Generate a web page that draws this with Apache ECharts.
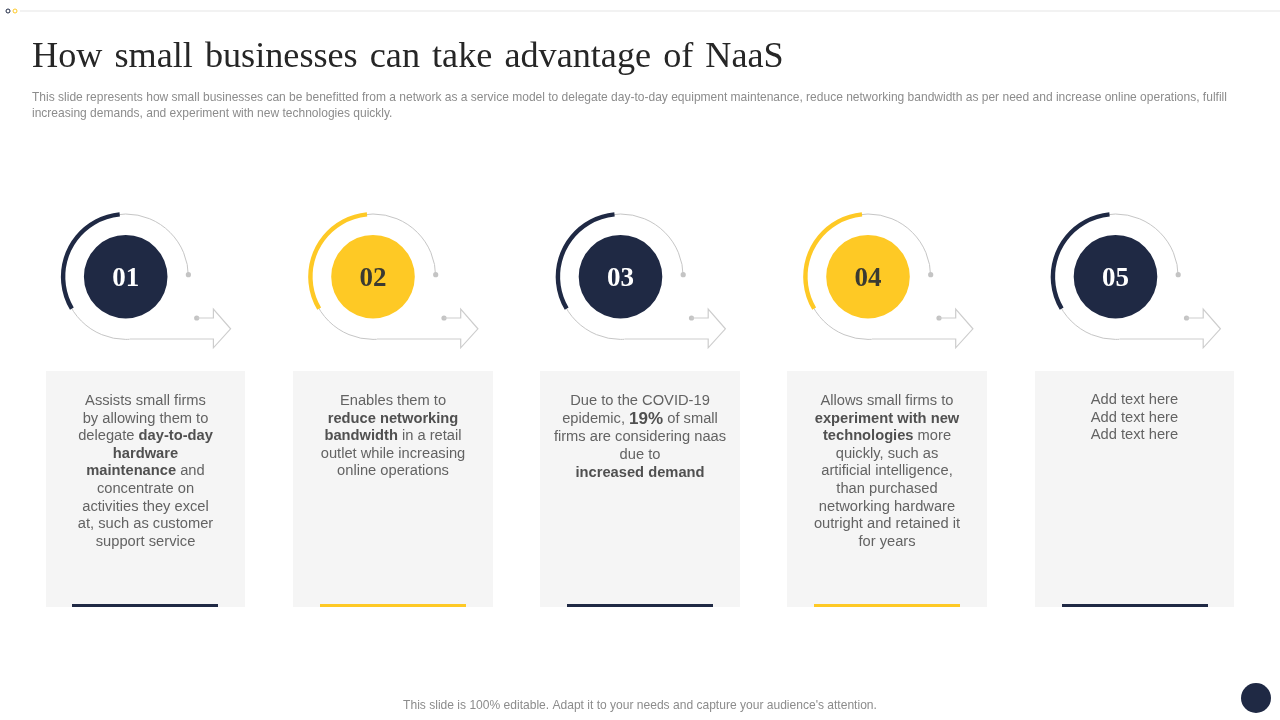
<!DOCTYPE html>
<html><head><meta charset="utf-8">
<style>html,body{margin:0;padding:0;background:#fff}#c{width:1280px;height:720px}</style>
<script src="https://cdn.jsdelivr.net/npm/echarts@6/dist/echarts.min.js"></script>
</head><body><div id="c"></div>
<script>
const titleText = 'How \u200asmall \u200abusinesses \u200acan \u200atake \u200aadvantage \u200aof \u200aNaaS';
const subtitleLines = [
 'This slide represents how small businesses can be benefitted from a network as a service model to delegate day-to-day equipment maintenance, reduce networking bandwidth as per need and increase online operations, fulfill',
 'increasing demands, and experiment with new technologies quickly.'
];
const footerText = "This slide is 100% editable. Adapt it to your needs and capture your audience's attention.";
const stepLabels = ['01','02','03','04','05'];
const stepColors = ['#1f2944','#fec925','#1f2944','#fec925','#1f2944'];
const progressShare = [32,32,32,32,32];
const cardTexts = [
 ['Assists small firms','by allowing them to','delegate {b|day-to-day}','{b|hardware}','{b|maintenance} and','concentrate on','activities they excel','at, such as customer','support service'],
 ['Enables them to','{b|reduce networking}','{b|bandwidth} in a retail','outlet while increasing','online operations'],
 ['Due to the COVID-19','epidemic, {h|19%} of small','firms are considering naas','due to','{b|increased demand}'],
 ['Allows small firms to','{b|experiment with new}','{b|technologies} more','quickly, such as','artificial intelligence,','than purchased','networking hardware','outright and retained it','for years'],
 ['Add text here','Add text here','Add text here']
];
const circleX = [125.7,373,620.5,868,1115.5];
const cardX = [46,293,540,787,1035];

const chart = echarts.init(document.getElementById('c'),null,{renderer:'canvas'});
const g = [];
const series = [];
const CY = 276.7;
g.push({type:'line',shape:{x1:20,y1:11,x2:1280,y2:11},style:{stroke:'#eeeeee',lineWidth:1.5}});
g.push({type:'circle',shape:{cx:8,cy:11,r:2},style:{fill:'#fff',stroke:'#1f2944',lineWidth:1}});
g.push({type:'circle',shape:{cx:15,cy:11,r:2},style:{fill:'#fff',stroke:'#fec925',lineWidth:1}});
g.push({type:'text',x:32,y:57.5,style:{text:titleText,font:'36.2px "Liberation Serif"',fill:'#262626',verticalAlign:'middle'}});
subtitleLines.forEach((t,i)=>g.push({type:'text',x:32,y:98+i*16,style:{text:t,font:'12.02px "Liberation Sans"',fill:'#8c8c8c',verticalAlign:'middle'}}));
g.push({type:'text',x:640,y:705.5,style:{text:footerText,font:'12.05px "Liberation Sans"',fill:'#8c8c8c',align:'center',verticalAlign:'middle'}});
g.push({type:'circle',shape:{cx:1256,cy:698,r:15},style:{fill:'#1f2944'}});

stepLabels.forEach((lab,i)=>{
  const cx=circleX[i], col=stepColors[i];
  g.push({type:'arc',shape:{cx:cx,cy:CY,r:62.7,startAngle:0,endAngle:Math.PI/2-0.06,clockwise:false},style:{stroke:'#c6c6c6',lineWidth:1,fill:'none'}});
  g.push({type:'circle',shape:{cx:cx+62.7,cy:274.7,r:2.6},style:{fill:'#c4c4c4'}});
  g.push({type:'circle',shape:{cx:cx+71,cy:318,r:2.6},style:{fill:'#c4c4c4'}});
  g.push({type:'polyline',shape:{points:[[cx+71,318],[cx+87.7,318],[cx+87.7,309],[cx+104.9,328.8],[cx+87.7,347.8],[cx+87.7,339],[cx+4,339]]},style:{stroke:'#cdcdcd',lineWidth:1.2,fill:'none'}});
  series.push({type:'pie',silent:true,animation:false,center:[cx,CY],radius:[60.4,64.8],startAngle:95.5,clockwise:false,
    label:{show:false},labelLine:{show:false},
    data:[{value:progressShare[i],itemStyle:{color:col}},{value:100-progressShare[i],itemStyle:{color:'rgba(0,0,0,0)'}}]});
  series.push({type:'pie',silent:true,animation:false,center:[cx,CY],radius:[0,41.8],
    label:{show:true,position:'center',offset:[0,2],formatter:lab,fontFamily:'Liberation Serif',fontWeight:'bold',fontSize:27,color:i%2?'#3a3a32':'#ffffff'},
    labelLine:{show:false},data:[{value:1,name:lab,itemStyle:{color:col}}]});
  const x=cardX[i], w=(i%2||i==2)?200:199;
  g.push({type:'rect',shape:{x:x,y:371,width:w,height:236},style:{fill:'#f5f5f5'}});
  g.push({type:'rect',shape:{x:x+(i==0?26:27),y:604,width:146,height:3},style:{fill:col}});
  const lh=i==2?18:17.65;
  g.push({type:'text',x:x+w/2,y:392+(i==4?-1:0),z:5,style:{
    text:cardTexts[i].join('\n'),align:'center',verticalAlign:'top',
    font:'14.7px "Liberation Sans"',fill:'#636363',lineHeight:lh,
    rich:{b:{font:'bold 14.7px "Liberation Sans"',fill:'#505050',lineHeight:lh},
          h:{font:'bold 17px "Liberation Sans"',fill:'#505050',lineHeight:lh}}}});
});
chart.setOption({animation:false,backgroundColor:'#ffffff',series:series,graphic:{elements:g}});
</script></body></html>
